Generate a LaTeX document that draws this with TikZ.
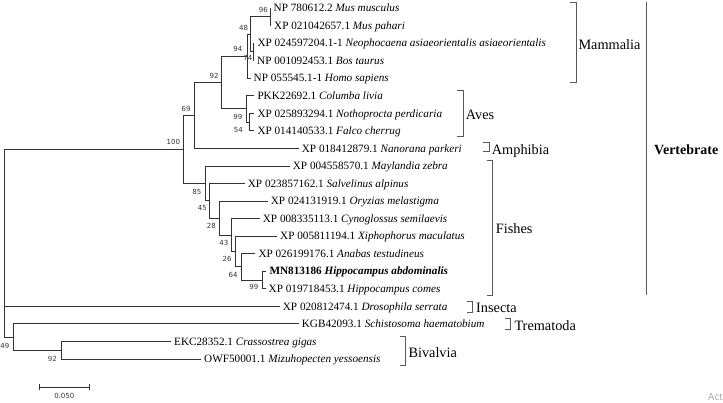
\documentclass[tikz,border=0pt]{standalone}
\usepackage{fontspec}
\setmainfont{Liberation Serif}
\newfontfamily\bsfont{DejaVu Sans}
\newfontfamily\wmfont{Open Sans}
\usetikzlibrary{calc}

\begin{document}
\begin{tikzpicture}[x=1pt,y=-1pt,
  edge/.style={draw=black!80, line width=0.85pt},
  brk/.style={draw=black!65, line width=0.85pt},
  leaf/.style={anchor=west, inner xsep=3pt, inner ysep=0pt, text height=7.4pt, text depth=0pt, font=\fontsize{11.2}{13}\selectfont},
  bs/.style={anchor=east, inner sep=0pt, text height=5.1pt, text depth=0pt, font=\bsfont\fontsize{7}{8}\selectfont, text=black!80},
  grp/.style={anchor=west, inner sep=0pt, text height=9.5pt, text depth=0pt, font=\fontsize{14.3}{16}\selectfont},
]
\useasboundingbox (0,0) rectangle (723,402);

% leaves
\node[leaf] (t1)  at (270.5,8)      {NP 780612.2 \textit{Mus musculus}};
\node[leaf] (t2)  at (271,25.55)    {XP 021042657.1 \textit{Mus pahari}};
\node[leaf] (t3)  at (254.3,43.1)   {XP 024597204.1-1 \textit{Neophocaena asiaeorientalis asiaeorientalis}};
\node[leaf] (t4)  at (254,60.65)    {NP 001092453.1 \textit{Bos taurus}};
\node[leaf] (t5)  at (250.5,78.2)   {NP 055545.1-1 \textit{Homo sapiens}};
\node[leaf] (t6)  at (254.3,95.75)  {PKK22692.1 \textit{Columba livia}};
\node[leaf] (t7)  at (254.3,113.3)  {XP 025893294.1 \textit{Nothoprocta perdicaria}};
\node[leaf] (t8)  at (254.3,130.85) {XP 014140533.1 \textit{Falco cherrug}};
\node[leaf] (t9)  at (298.7,148.4)  {XP 018412879.1 \textit{Nanorana parkeri}};
\node[leaf] (t10) at (289.7,165.95) {XP 004558570.1 \textit{Maylandia zebra}};
\node[leaf] (t11) at (244.7,183.5)  {XP 023857162.1 \textit{Salvelinus alpinus}};
\node[leaf] (t12) at (267.7,201.05) {XP 024131919.1 \textit{Oryzias melastigma}};
\node[leaf] (t13) at (259.7,218.6)  {XP 008335113.1 \textit{Cynoglossus semilaevis}};
\node[leaf] (t14) at (277,236.15)   {XP 005811194.1 \textit{Xiphophorus maculatus}};
\node[leaf] (t15) at (255.3,253.7)  {XP 026199176.1 \textit{Anabas testudineus}};
\node[leaf] (t16) at (266.3,271.25) {\bfseries MN813186 \textit{Hippocampus abdominalis}};
\node[leaf] (t17) at (265.5,288.8)  {XP 019718453.1 \textit{Hippocampus comes}};
\node[leaf] (t18) at (279.7,306.35) {XP 020812474.1 \textit{Drosophila serrata}};
\node[leaf] (t19) at (298.7,323.9)  {KGB42093.1 \textit{Schistosoma haematobium}};
\node[leaf] (t20) at (171,341.45)   {EKC28352.1 \textit{Crassostrea gigas}};
\node[leaf] (t21) at (201,359)      {OWF50001.1 \textit{Mizuhopecten yessoensis}};

% internal nodes
\coordinate (root) at (4,243.3);
\coordinate (n100) at (183.3,149.5);
\coordinate (n69)  at (194.3,115.5);
\coordinate (n92)  at (221.7,82.6);
\coordinate (n94)  at (247.5,56.3);
\coordinate (n48)  at (250.3,34.3);
\coordinate (n96)  at (270,16.8);
\coordinate (n74)  at (253,51.9);
\coordinate (n99a) at (246.5,108.9);
\coordinate (n54)  at (249,122.1);
\coordinate (n85)  at (205,183.4);
\coordinate (n45)  at (209.3,200.8);
\coordinate (n28)  at (219,218.1);
\coordinate (n43)  at (231.7,235.1);
\coordinate (n26)  at (235.7,251.5);
\coordinate (n64)  at (241.7,266.9);
\coordinate (n99f) at (262.5,280);
\coordinate (n49)  at (13.3,337.1);
\coordinate (n92b) at (61,350.2);

% branches
\draw[edge] (root) |- (n100);
\draw[edge] (root) |- (t18.west);
\draw[edge] (root) |- (n49);
\draw[edge] (n100) |- (n69);
\draw[edge] (n100) |- (n85);
\draw[edge] (n69) |- (n92);
\draw[edge] (n69) |- (t9.west);
\draw[edge] (n92) |- (n94);
\draw[edge] (n92) |- (n99a);
\draw[edge] (n94) |- (n48);
\draw[edge] (n94) |- (t5.west);
\draw[edge] (n48) |- (n96);
\draw[edge] (n48) |- (n74);
\draw[edge] (n96) |- (t1.west);
\draw[edge] (n96) |- (t2.west);
\draw[edge] (n74) |- (t3.west);
\draw[edge] (n74) |- (t4.west);
\draw[edge] (n99a) |- (t6.west);
\draw[edge] (n99a) |- (n54);
\draw[edge] (n54) |- (t7.west);
\draw[edge] (n54) |- (t8.west);
\draw[edge] (n85) |- (t10.west);
\draw[edge] (n85) |- (n45);
\draw[edge] (n45) |- (t11.west);
\draw[edge] (n45) |- (n28);
\draw[edge] (n28) |- (t12.west);
\draw[edge] (n28) |- (n43);
\draw[edge] (n43) |- (t13.west);
\draw[edge] (n43) |- (n26);
\draw[edge] (n26) |- (t14.west);
\draw[edge] (n26) |- (n64);
\draw[edge] (n64) |- (t15.west);
\draw[edge] (n64) |- (n99f);
\draw[edge] (n99f) |- (t16.west);
\draw[edge] (n99f) |- (t17.west);
\draw[edge] (n49) |- (t19.west);
\draw[edge] (n49) |- (n92b);
\draw[edge] (n92b) |- (t20.west);
\draw[edge] (n92b) |- (t21.west);

% bootstrap values
\node[bs] (b96)  at ($(n96)+(-2,-7)$)  {96};
\node[bs] (b48)  at ($(n48)+(-2,-6.5)$) {48};
\node[bs] (b94)  at ($(n94)+(-5,-7)$)  {94};
\node[bs] (b92)  at ($(n92)+(-3,-6.6)$) {92};
\node[bs] (b69)  at ($(n69)+(-3.5,-6.5)$) {69};
\node[bs] (b100) at ($(n100)+(-3,-7.3)$) {100};
\node[bs] (b74)  at ($(n74)+(-0.5,5.6)$) {74};
\node[bs] (b99a) at ($(n99a)+(-4,8)$) {99};
\node[bs] (b54)  at ($(n54)+(-6,8)$)  {54};
\node[bs] (b85)  at ($(n85)+(-3.5,8.3)$) {85};
\node[bs] (b45)  at ($(n45)+(-2.3,7.5)$) {45};
\node[bs] (b28)  at ($(n28)+(-3,8)$)  {28};
\node[bs] (b43)  at ($(n43)+(-3.2,8.2)$) {43};
\node[bs] (b26)  at ($(n26)+(-3.9,7.8)$) {26};
\node[bs] (b64)  at ($(n64)+(-3.9,8.1)$) {64};
\node[bs] (b99f) at ($(n99f)+(-4,7.3)$) {99};
\node[bs] (b49)  at ($(n49)+(-3.8,9)$)  {49};
\node[bs] (b92b) at ($(n92b)+(-4,8.8)$) {92};

% group brackets
\draw[brk] (570,2) -- (576,2) -- (576,82.7) -- (570,82.7);
\node[grp] (gmam) at (578.3,45) {Mammalia};
\draw[brk] (457.3,90) -- (463.3,90) -- (463.3,136) -- (457.3,136);
\node[grp] (gave) at (465.7,115) {Aves};
\draw[brk] (483,142.7) -- (489,142.7) -- (489,151.7) -- (483,151.7);
\node[grp] (gamp) at (491.7,149.5) {Amphibia};
\draw[brk] (486.7,160) -- (492.7,160) -- (492.7,295) -- (486.7,295);
\node[grp] (gfis) at (495.7,229) {Fishes};
\draw[brk] (466.7,301.7) -- (472.7,301.7) -- (472.7,312.7) -- (466.7,312.7);
\node[grp] (gins) at (476,308) {Insecta};
\draw[brk] (505,318) -- (510.7,318) -- (510.7,329) -- (505,329);
\node[grp] (gtre) at (514.3,325.5) {Trematoda};
\draw[brk] (400,336.7) -- (405,336.7) -- (405,365) -- (400,365);
\node[grp] (gbiv) at (408.3,352.5) {Bivalvia};
\draw[brk] (646.7,2) -- (646.7,295);
\node[grp, font=\bfseries\fontsize{14}{16}\selectfont] (gver) at (654,150) {Vertebrate};

% scale bar
\coordinate (sbL) at (39.3,387);
\coordinate (sbR) at (89.3,387);
\draw[edge] (sbL) -- (sbR);
\draw[edge] ($(sbL)+(0,-3)$) -- ($(sbL)+(0,3)$);
\draw[edge] ($(sbR)+(0,-3)$) -- ($(sbR)+(0,3)$);
\node[bs, anchor=center] (sblab) at (64.3,395.5) {0.050};

% watermark
\node[anchor=west, inner sep=0pt, text=black!35, font=\wmfont\fontsize{10}{12}\selectfont] (wm) at (708,397) {Act};
\end{tikzpicture}
\end{document}
